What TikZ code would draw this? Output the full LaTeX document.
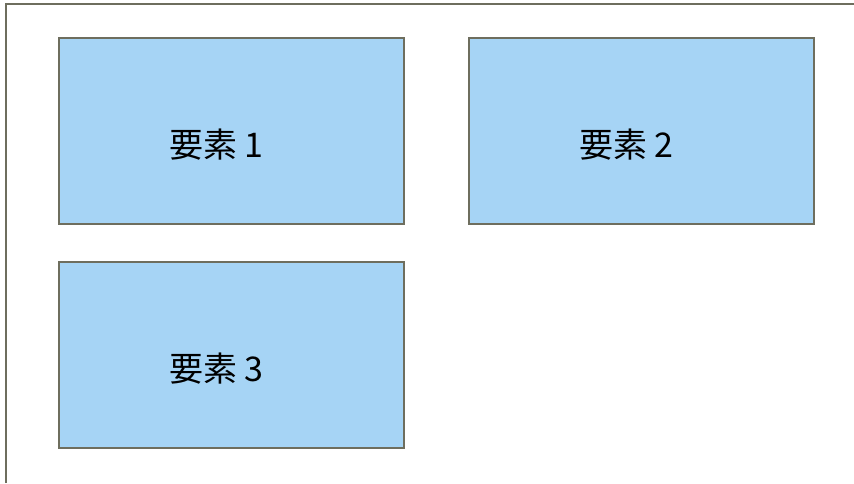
\documentclass[tikz,border=0pt]{standalone}
\usepackage{fontspec}
\setmainfont{Noto Sans CJK JP}
\definecolor{boxfill}{HTML}{A6D4F5}
\definecolor{boxline}{HTML}{6E6E5E}
\begin{document}
\begin{tikzpicture}[x=1pt,y=-1pt,
  elem/.style={draw=boxline, line width=2pt, fill=boxfill, minimum width=345pt, minimum height=186pt, inner sep=0pt, anchor=north west},
  elemtext/.style={inner sep=0pt, font=\fontsize{34}{38}\selectfont}]
\useasboundingbox (0,0) rectangle (854,483);
\coordinate (fb) at (6,483);
\coordinate (fc) at (6,4);
\coordinate (fr) at (854,4);
\draw[boxline, line width=2pt] (fb) -- (fc) -- (fr);
\node[elem] (e1) at (58,37) {};
\node[elem] (e2) at (468,37) {};
\node[elem] (e3) at (58,261) {};
\node[elemtext] (t1) at ([shift={(-15,14)}]e1.center) {要素 1};
\node[elemtext] (t2) at ([shift={(-15,14)}]e2.center) {要素 2};
\node[elemtext] (t3) at ([shift={(-15,14)}]e3.center) {要素 3};
\end{tikzpicture}
\end{document}
